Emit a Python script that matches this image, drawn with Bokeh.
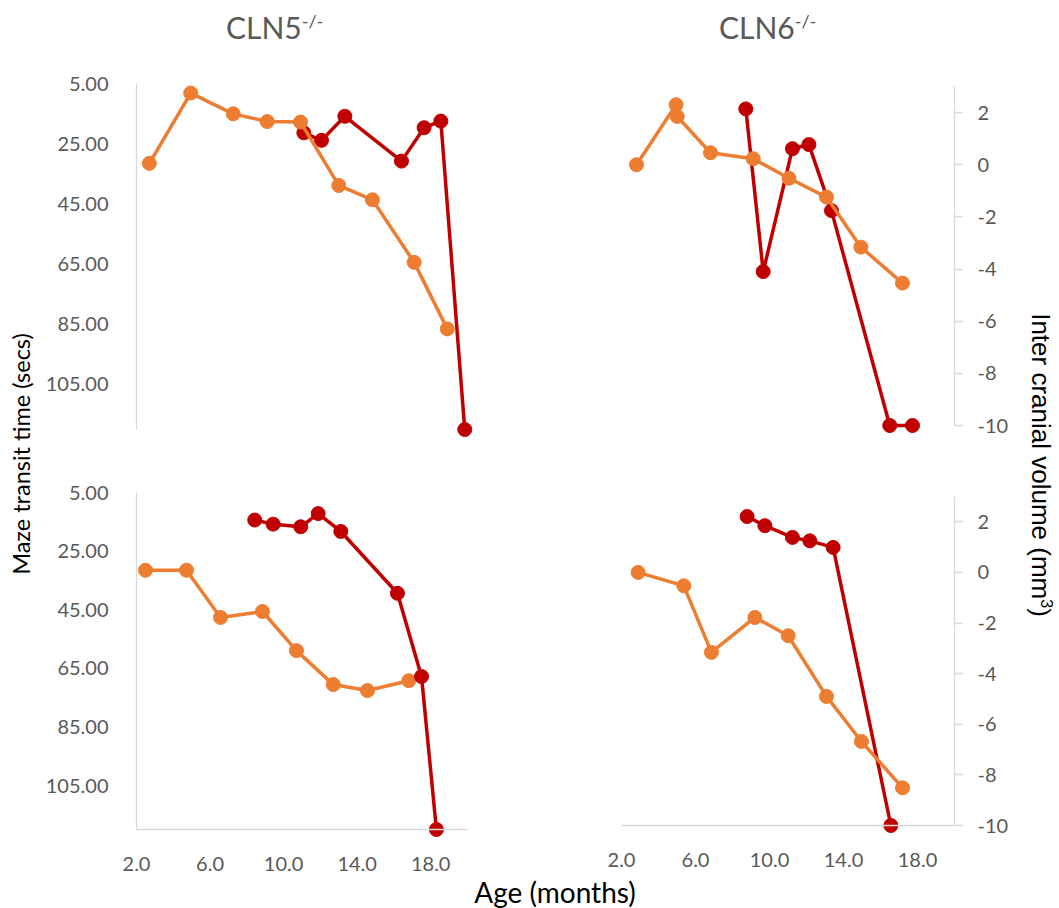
from bokeh.plotting import figure
from bokeh.models import Range1d, LinearAxis, FixedTicker, NumeralTickFormatter, Div, Span
from bokeh.layouts import row, column
from bokeh.embed import file_html
from bokeh.resources import INLINE

# Inter cranial volume change (mm^3) against age (months)
cln5_top_icv_age = [2.7, 4.95, 7.26, 9.11, 10.92, 13.0, 14.83, 17.1, 18.9]
cln5_top_icv = [0.0, 2.64, 1.86, 1.57, 1.55, -0.83, -1.37, -3.72, -6.22]
cln6_top_icv_age = [2.81, 4.95, 5.01, 6.81, 9.12, 11.05, 13.08, 14.94, 17.19]
cln6_top_icv = [0.0, 2.30, 1.85, 0.46, 0.23, -0.52, -1.24, -3.16, -4.54]
cln5_bottom_icv_age = [2.49, 4.72, 6.57, 8.85, 10.7, 12.7, 14.56, 16.81]
cln5_bottom_icv = [0.0, 0.0, -1.82, -1.59, -3.10, -4.41, -4.64, -4.26]
cln6_bottom_icv_age = [2.9, 5.37, 6.86, 9.21, 11.01, 13.08, 14.97, 17.19]
cln6_bottom_icv = [0.0, -0.53, -3.16, -1.78, -2.5, -4.9, -6.68, -8.51]

# Maze transit time (secs) against age (months); 120 s is the cut-off
cln5_top_maze_age = [11.1, 12.06, 13.33, 16.41, 17.64, 18.55, 19.85]
cln5_top_maze = [21.4, 23.9, 15.9, 30.8, 19.7, 17.5, 120.0]
cln6_top_maze_age = [8.72, 9.66, 11.24, 12.13, 13.35, 16.5, 17.73]
cln6_top_maze = [12.6, 67.8, 26.1, 24.7, 47.1, 120.0, 120.0]
cln5_bottom_maze_age = [8.43, 9.43, 10.93, 11.88, 13.11, 16.19, 17.5, 18.31]
cln5_bottom_maze = [14.4, 15.8, 16.7, 12.2, 18.3, 39.4, 67.8, 120.0]
cln6_bottom_maze_age = [8.79, 9.75, 11.24, 12.18, 13.44, 16.56]
cln6_bottom_maze = [12.0, 15.2, 19.3, 20.5, 22.8, 120.0]

# Axis extents and ticks
AGE_MIN, AGE_MAX = 2, 20
MAZE_MIN, MAZE_MAX = 5, 120
ICV_MIN, ICV_MAX = -10, 3
age_ticks = [2, 6, 10, 14, 18]
maze_ticks = [5, 25, 45, 65, 85, 105]
icv_ticks = [-10, -8, -6, -4, -2, 0, 2]

ORANGE = "#ED7D31"
RED = "#C00000"
AXIS_GREY = "#D9D9D9"
LABEL_GREY = "#595959"
FONT = "Lato"
PAD_B = 9   # extra plot area under the axes so end markers are not cut off


def panel(icv_age, icv, maze_age, maze, *, left, right, bottom,
          fw, fh, bl, br, bt, bb, pad_r=0, maze_on_top=False):
    maze_end = MAZE_MAX + (MAZE_MAX - MAZE_MIN) * PAD_B / fh
    icv_start = ICV_MIN - (ICV_MAX - ICV_MIN) * PAD_B / fh
    age_end = AGE_MAX + (AGE_MAX - AGE_MIN) * pad_r / fw
    p = figure(
        frame_width=fw + pad_r, frame_height=fh + PAD_B,
        min_border_left=bl, min_border_right=br - pad_r,
        min_border_top=bt, min_border_bottom=bb - PAD_B,
        x_range=Range1d(AGE_MIN, age_end), y_range=Range1d(maze_end, MAZE_MIN),
        x_axis_location="below" if bottom else None,
        y_axis_location="left" if left else None,
        output_backend="svg", toolbar_location=None,
    )
    p.extra_y_ranges = {"icv": Range1d(icv_start, ICV_MAX)}
    p.outline_line_color = None
    p.background_fill_color = "white"
    p.border_fill_color = "white"
    p.xgrid.visible = False
    p.ygrid.visible = False

    if bottom:
        ax = p.xaxis[0]
        ax.ticker = FixedTicker(ticks=age_ticks)
        ax.formatter = NumeralTickFormatter(format="0.0")
        ax.axis_line_color = None
        ax.major_tick_line_color = None
        ax.minor_tick_line_color = None
        ax.major_label_standoff = 12
        ax.major_label_text_font = FONT
        ax.major_label_text_font_size = "20px"
        ax.major_label_text_color = LABEL_GREY
        # horizontal axis line at the bottom of the scale
        p.add_layout(Span(location=MAZE_MAX, dimension="width",
                          line_color=AXIS_GREY, line_width=1.3))

    if left:
        ay = p.yaxis[0]
        ay.ticker = FixedTicker(ticks=maze_ticks)
        ay.formatter = NumeralTickFormatter(format="0.00")
        ay.bounds = (MAZE_MIN, MAZE_MAX)
        ay.axis_line_color = AXIS_GREY
        ay.axis_line_width = 1.3
        ay.major_tick_line_color = None
        ay.minor_tick_line_color = None
        ay.major_label_standoff = 22
        ay.major_label_text_font = FONT
        ay.major_label_text_font_size = "20px"
        ay.major_label_text_color = LABEL_GREY

    if right:
        ar = LinearAxis(y_range_name="icv", ticker=FixedTicker(ticks=icv_ticks),
                        formatter=NumeralTickFormatter(format="0"),
                        bounds=(ICV_MIN, ICV_MAX))
        ar.axis_line_color = AXIS_GREY
        ar.axis_line_width = 1.3
        ar.major_tick_line_color = AXIS_GREY
        ar.major_tick_line_width = 1.3
        ar.major_tick_out = 8
        ar.major_tick_in = 0
        ar.minor_tick_line_color = None
        ar.major_label_standoff = 15
        ar.major_label_text_font = FONT
        ar.major_label_text_font_size = "20px"
        ar.major_label_text_color = LABEL_GREY
        p.add_layout(ar, "right")

    def draw_maze():
        p.line(maze_age, maze, line_color=RED, line_width=3.5, line_join="round")
        p.scatter(maze_age, maze, size=14, fill_color=RED, line_color=RED)

    def draw_icv():
        p.line(icv_age, icv, y_range_name="icv", line_color=ORANGE,
               line_width=3.5, line_join="round")
        p.scatter(icv_age, icv, y_range_name="icv", size=14,
                  fill_color=ORANGE, line_color=ORANGE)

    if maze_on_top:
        draw_icv()
        draw_maze()
    else:
        draw_maze()
        draw_icv()
    return p


tl = panel(cln5_top_icv_age, cln5_top_icv, cln5_top_maze_age, cln5_top_maze,
           left=True, right=False, bottom=False,
           fw=331, fh=346, bl=93, br=94, bt=13, bb=31, pad_r=10)
bl_ = panel(cln5_bottom_icv_age, cln5_bottom_icv, cln5_bottom_maze_age, cln5_bottom_maze,
            left=True, right=False, bottom=True,
            fw=331, fh=337, bl=93, br=94, bt=32, bb=46, maze_on_top=True)
tr = panel(cln6_top_icv_age, cln6_top_icv, cln6_top_maze_age, cln6_top_maze,
           left=False, right=True, bottom=False,
           fw=333, fh=339, bl=60, br=59, bt=16, bb=35)
br_ = panel(cln6_bottom_icv_age, cln6_bottom_icv, cln6_bottom_maze_age, cln6_bottom_maze,
            left=False, right=True, bottom=True,
            fw=333, fh=329, bl=60, br=59, bt=36, bb=50)

title_html = f"""
<div style="position:relative;width:1059px;height:70px;font-family:{FONT};color:{LABEL_GREY};">
  <div style="position:absolute;left:226px;top:12px;font-size:30px;line-height:1;white-space:nowrap;">CLN5<sup style="font-size:18px;">-/-</sup></div>
  <div style="position:absolute;left:719px;top:12px;font-size:30px;line-height:1;white-space:nowrap;">CLN6<sup style="font-size:18px;">-/-</sup></div>
</div>"""
titles = Div(text=title_html, width=1059, height=70, margin=0)

ylabel_html = f"""
<div style="position:relative;width:42px;height:805px;font-family:{FONT};color:black;">
  <div style="position:absolute;left:22px;top:384px;transform:translate(-50%,-50%) rotate(-90deg);font-size:23.5px;line-height:1;white-space:nowrap;">Maze transit time (secs)</div>
</div>"""
ylabel = Div(text=ylabel_html, width=42, height=805, margin=0)

rlabel_html = """
<div style="position:relative;width:47px;height:805px;font-family:'Liberation Sans';color:black;">
  <div style="position:absolute;left:28px;top:395px;transform:translate(-50%,-50%) rotate(90deg);font-size:26px;line-height:1;white-space:nowrap;">Inter cranial volume (mm<sup style="font-size:16px;">3</sup>)</div>
</div>"""
rlabel = Div(text=rlabel_html, width=47, height=805, margin=0)

xlabel_html = f"""
<div style="position:relative;width:1059px;height:33px;font-family:{FONT};color:black;">
  <div style="position:absolute;left:555px;top:17px;transform:translate(-50%,-50%);font-size:28px;line-height:1;white-space:nowrap;">Age (months)</div>
</div>"""
xlabel = Div(text=xlabel_html, width=1059, height=33, margin=0)

body = row(ylabel, column(tl, bl_, spacing=0), column(tr, br_, spacing=0), rlabel, spacing=0)
page = column(titles, body, xlabel, spacing=0)

open("out.html", "w").write(file_html(page, INLINE))
